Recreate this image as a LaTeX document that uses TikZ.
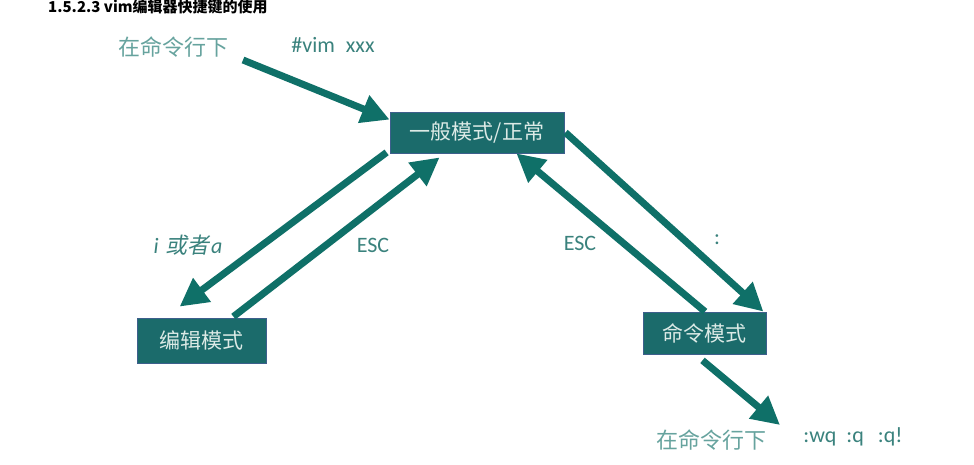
\documentclass[tikz,border=0pt]{standalone}
\usepackage{fontspec}
\setmainfont{Carlito}
\newfontfamily\cjk{Noto Sans CJK SC}
\newfontfamily\cjkit[FakeSlant=0.2]{Noto Sans CJK SC}
\usetikzlibrary{arrows.meta,calc}

\definecolor{boxteal}{HTML}{1B6B6B}
\definecolor{arrowteal}{HTML}{0F7068}
\definecolor{labelteal}{HTML}{3A827D}
\definecolor{paleteal}{HTML}{66A39E}
\definecolor{boxtext}{HTML}{DCEAE6}
\definecolor{boxline}{HTML}{3D5F8C}

\tikzset{
  modebox/.style={draw=boxline,line width=0.8pt,fill=boxteal,text=boxtext,
    inner sep=0pt,font=\cjk\fontsize{21}{24}\selectfont},
  fat/.style={draw=arrowteal,line width=7pt,
    -{Triangle[length=28pt,width=28pt]}},
  lbl/.style={text=labelteal,inner sep=0pt,font=\fontsize{22}{26}\selectfont},
  cjklbl/.style={text=paleteal,inner sep=0pt,font=\cjk\fontsize{22}{26}\selectfont}
}

\begin{document}
\begin{tikzpicture}[x=1pt,y=-1pt]
\useasboundingbox[fill=white](0,0) rectangle (974,464);

% title
\node[anchor=west,inner sep=0pt,font=\cjk\bfseries\fontsize{15}{17}\selectfont] (title) at (48,7)
  {1.5.2.3 vim编辑器快捷键的使用};

% modes
\node[modebox,minimum width=174pt,minimum height=41pt] (gen) at (477,132.5) {一般模式/正常};
\node[modebox,minimum width=129pt,minimum height=45pt] (edit) at (201.5,340.5) {编辑模式};
\node[modebox,minimum width=123pt,minimum height=42pt] (cmd) at (704.5,333) {命令模式};

% labels
\node[lbl] (insertlbl) at (188,245) {\itshape i\hspace{2pt} {\cjkit 或者}\hspace{1.5pt}a};
\node[cjklbl] (startlbl) at (173,47) {在命令行下};
\node[lbl] (vimlbl) at (333,45) {\#vim\hspace{11pt}xxx};
\node[lbl] (esclbl) at (373,245) {ESC};
\node[lbl] (escrlbl) at (580,243) {ESC};
\node[lbl] (colonlbl) at (717,240) {:};
\node[cjklbl] (endlbl) at (711,440) {在命令行下};
\node[lbl] (quitlbl) at (853,437) {:wq\hspace{10pt}:q\hspace{14pt}:q!};

\coordinate (cmdline) at (243,60);
\coordinate (quit) at (780,425);

% arrows
\draw[fat] (cmdline) -- ($(gen.north west)+(0,8)$);
\draw[fat] ($(gen.south west)+(-3,-1)$) -- ($(edit.north west)+(43,-11)$);
\draw[fat] ($(edit.north east)+(-33,-1)$) -- ($(gen.south west)+(50,4)$);
\draw[fat] ($(cmd.north)+(0.5,0)$) -- ($(gen.south east)+(-48,0)$);
\draw[fat] ($(gen.east)+(1,0)$) -- ($(cmd.north east)+(-3,0)$);
\draw[fat] ($(cmd.south)+(-2,6)$) -- (quit);
\end{tikzpicture}
\end{document}
